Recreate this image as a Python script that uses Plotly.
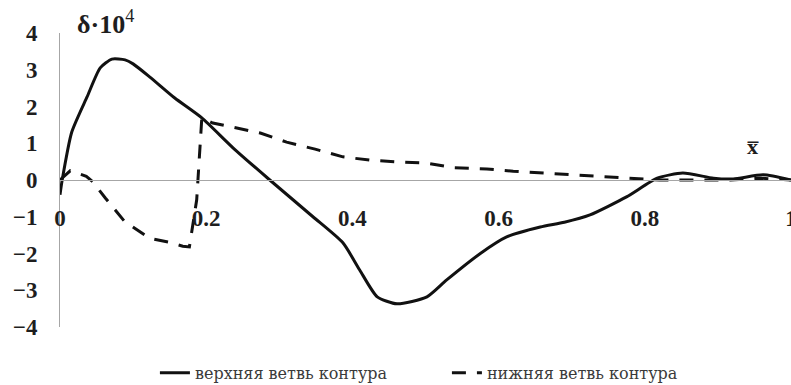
import plotly.graph_objects as go

# Upper branch of the contour (solid)
x_upper = [0.0, 0.003, 0.016, 0.037, 0.055, 0.071, 0.089, 0.10, 0.123, 0.157, 0.194,
           0.237, 0.287, 0.346, 0.387, 0.41, 0.434, 0.461, 0.502, 0.529, 0.575,
           0.611, 0.657, 0.69, 0.725, 0.775, 0.817, 0.852, 0.894, 0.921, 0.962, 1.0]
y_upper = [-0.4, 0.0, 1.3, 2.26, 3.05, 3.29, 3.27, 3.16, 2.8, 2.23, 1.69,
           0.87, 0.0, -1.0, -1.71, -2.45, -3.18, -3.37, -3.18, -2.72, -2.0,
           -1.55, -1.28, -1.15, -0.95, -0.46, 0.05, 0.19, 0.05, 0.03, 0.14, 0.0]

# Lower branch of the contour (dashed)
x_lower = [0.0, 0.014, 0.036, 0.045, 0.062, 0.088, 0.122, 0.148, 0.168, 0.177, 0.187,
           0.194, 0.209, 0.243, 0.274, 0.31, 0.349, 0.387, 0.424, 0.465, 0.502,
           0.54, 0.584, 0.62, 0.66, 0.699, 0.739, 0.777, 0.82, 0.862, 0.917, 0.958, 1.0]
y_lower = [0.0, 0.25, 0.1, -0.05, -0.49, -1.12, -1.58, -1.69, -1.8, -1.82, -0.54,
           1.69, 1.55, 1.41, 1.28, 1.03, 0.84, 0.63, 0.54, 0.49, 0.46,
           0.33, 0.30, 0.24, 0.19, 0.14, 0.08, 0.05, 0.0, 0.0, 0.0, 0.05, 0.0]

series_names = ["верхняя ветвь контура", "нижняя ветвь контура"]

x_ticks = [0, 0.2, 0.4, 0.6, 0.8, 1]
x_tick_text = ["0", "0.2", "0.4", "0.6", "0.8", "1"]
y_ticks = [-4, -3, -2, -1, 0, 1, 2, 3, 4]

tick_font = dict(family="Liberation Serif", size=23, color="#1e1e1e", weight="bold")
axis_grey = "#a6a6a6"

fig = go.Figure()
fig.add_trace(go.Scatter(
    x=x_upper, y=y_upper, mode="lines", name=series_names[0],
    line=dict(color="#111111", width=3, shape="spline", smoothing=0.6),
))
fig.add_trace(go.Scatter(
    x=x_lower, y=y_lower, mode="lines", name=series_names[1],
    line=dict(color="#111111", width=3, dash="14px,11px"),
))

fig.update_layout(
    width=791, height=385,
    margin=dict(l=60, r=0, t=33, b=58, autoexpand=False),
    paper_bgcolor="white", plot_bgcolor="white",
    showlegend=True,
    legend=dict(orientation="h", xref="container", x=0.565, xanchor="center",
                y=-0.156, yanchor="middle",
                entrywidth=247, entrywidthmode="pixels",
                font=dict(family="DejaVu Serif", size=16, color="#3a3a3a"),
                bgcolor="rgba(0,0,0,0)"),
    xaxis=dict(range=[0, 1], tickvals=x_ticks, ticktext=x_tick_text,
               anchor="free", position=0.5, showline=True, linecolor=axis_grey,
               linewidth=1, ticks="", showgrid=False, zeroline=False,
               tickfont=tick_font, ticklabelstandoff=17, ticklabeloverflow="allow"),
    yaxis=dict(range=[-4, 4], tickvals=y_ticks, showline=True, linecolor=axis_grey,
               linewidth=1, ticks="", showgrid=False, zeroline=False,
               tickfont=tick_font, ticklabelstandoff=17),
    annotations=[
        dict(text="<b>δ·10</b><sup>4</sup>", xref="x", yref="paper", x=0.062, y=1.035,
             showarrow=False, xanchor="center", yanchor="middle",
             font=dict(family="Liberation Serif", size=26, color="#1e1e1e")),
        dict(text="<b>x\u0305</b>", xref="x", yref="y", x=0.948, y=0.9,
             showarrow=False, xanchor="center", yanchor="middle",
             font=dict(family="Liberation Serif", size=22, color="#1e1e1e")),
    ],
)

fig.write_html("out.html")
